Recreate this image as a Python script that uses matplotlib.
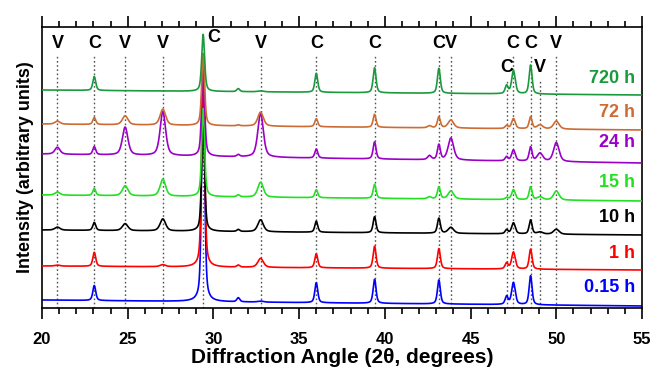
import numpy as np
import matplotlib
matplotlib.use("Agg")
import matplotlib.pyplot as plt
from matplotlib.ticker import MultipleLocator

plt.rcParams["font.family"] = ["Liberation Sans", "DejaVu Sans"]
plt.rcParams["font.weight"] = "bold"

# series, top to bottom
series_labels = ["720 h", "72 h", "24 h", "15 h", "10 h", "1 h", "0.15 h"]
series_colors = ["#1a9a3c", "#cd6b32", "#9a00c8", "#22e022", "#000000", "#ff0000", "#0000ff"]

# baseline level at 20 deg and at 55 deg (arbitrary units)
baseline_left = [218, 184, 154, 113, 78, 42, 8]
baseline_right = [213, 178, 145, 107, 73, 38, 2]

# reflections
peak_pos = [20.9, 23.05, 24.85, 27.05, 29.4, 31.45, 32.75, 36.0, 39.4, 42.6,
            43.15, 43.85, 47.1, 47.5, 48.5, 49.05, 50.0]
peak_fwhm = [0.35, 0.2, 0.38, 0.38, 0.2, 0.2, 0.38, 0.2, 0.2, 0.25,
             0.2, 0.38, 0.2, 0.25, 0.2, 0.38, 0.38]
peak_heights = [
    [0, 14, 0, 0, 57, 3, 1, 19, 25, 0, 25, 0, 8, 23, 29, 0, 0],        # 720 h
    [3, 7, 9, 16, 72, 1, 14, 8, 13, 2, 11, 8, 3, 10, 12, 4, 8],        # 72 h
    [7, 8, 28, 44, 95, 2, 44, 9, 17, 4, 15, 22, 4, 11, 14, 8, 19],     # 24 h
    [3, 7, 10, 17, 88, 2, 15, 8, 14, 2, 12, 8, 2, 10, 13, 3, 9],       # 15 h
    [3, 8, 7, 12, 110, 2, 12, 11, 16, 0, 15, 6, 4, 11, 14, 2, 5],      # 10 h
    [1, 14, 0, 2, 210, 2, 9, 14, 22, 0, 20, 0, 6, 17, 20, 0, 0],       # 1 h
    [0, 15, 0, 0, 240, 4, 1, 20, 24, 0, 24, 0, 8, 22, 29, 0, 0],       # 0.15 h
]

# phase markers (V = vaterite, C = calcite)
marker_pos = [20.9, 23.05, 24.85, 27.05, 29.4, 32.75, 36.0, 39.4, 43.15, 43.85,
              47.1, 47.45, 48.5, 49.05, 50.0]
marker_text = ["V", "C", "V", "V", "C", "V", "C", "C", "C", "V",
               "C", "C", "C", "V", "V"]
marker_low = [False] * 10 + [True, False, False, True, False]


def pattern(x, i):
    # pseudo-Voigt peaks on a sloping background
    y = np.interp(x, [20, 55], [baseline_left[i], baseline_right[i]])
    for c, w, h in zip(peak_pos, peak_fwhm, peak_heights[i]):
        g = w / 2
        lor = g ** 2 / ((x - c) ** 2 + g ** 2)
        gau = np.exp(-np.log(2) * ((x - c) / g) ** 2)
        y = y + h * (0.5 * lor + 0.5 * gau)
    return y


fig = plt.figure(figsize=(6.54, 3.70), dpi=100)
ax = fig.add_axes([0.0642, 0.1676, 0.9175, 0.7594])

x = np.linspace(20, 55, 4000)

for pos, low in zip(marker_pos, marker_low):
    top = 228 if low else 253
    ax.plot([pos, pos], [0, top], color="#555555", lw=1.0, ls=(0, (1.2, 1.8)), zorder=1)

for i in reversed(range(len(series_labels))):
    ax.plot(x, pattern(x, i), color=series_colors[i], lw=1.2, zorder=2 + (6 - i))
    ax.text(54.6, baseline_left[i] + 12, series_labels[i], color=series_colors[i],
            fontsize=13, fontweight="bold", ha="right", va="center", zorder=10)

for pos, txt, low in zip(marker_pos, marker_text, marker_low):
    if pos == 29.4:
        ax.text(30.0, 271, txt, fontsize=13, fontweight="bold", ha="center", va="center")
    elif low:
        ax.text(pos, 241, txt, fontsize=13, fontweight="bold", ha="center", va="center")
    else:
        ax.text(pos, 265, txt, fontsize=13, fontweight="bold", ha="center", va="center")

ax.set_xlim(20, 55)
ax.set_ylim(0, 281)
ax.set_yticks([])
ax.xaxis.set_major_locator(MultipleLocator(5))
ax.xaxis.set_minor_locator(MultipleLocator(1))
ax.tick_params(axis="x", which="both", direction="out", top=True, bottom=True,
               labelsize=12, width=1.2, pad=9)
ax.tick_params(axis="x", which="major", length=8)
ax.tick_params(axis="x", which="minor", length=4)
for lab in ax.get_xticklabels():
    lab.set_fontweight("bold")
for s in ax.spines.values():
    s.set_linewidth(1.2)

ax.set_xlabel("Diffraction Angle (2θ, degrees)", fontsize=15, fontweight="bold", labelpad=1)
ax.set_ylabel("Intensity (arbitrary units)", fontsize=13, fontweight="bold", labelpad=6)

fig.savefig("out.png", dpi=100)
